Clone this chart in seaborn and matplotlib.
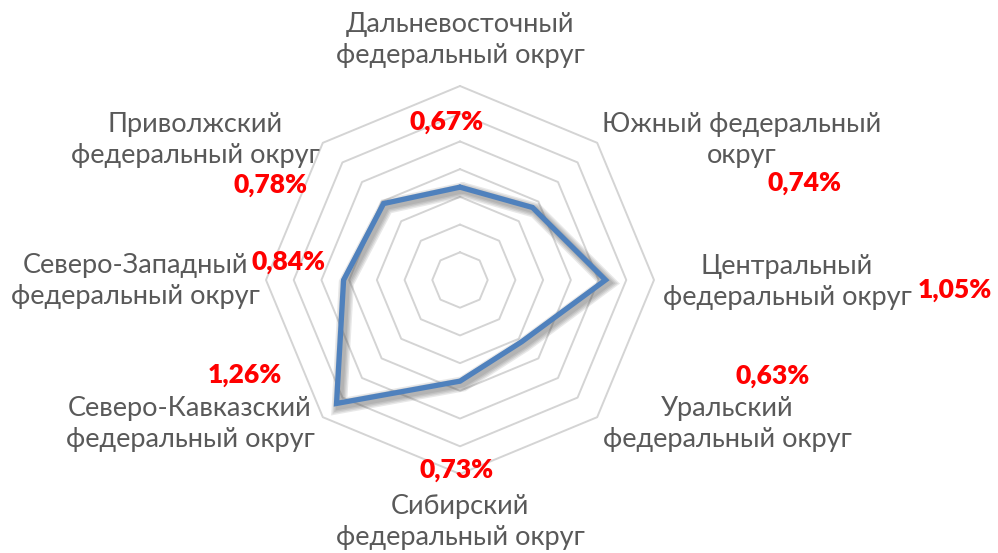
import numpy as np
import pandas as pd
import seaborn as sns
import matplotlib.pyplot as plt
import matplotlib.patheffects as pe

# data, clockwise from top
districts = ['Дальневосточный\nфедеральный округ', 'Южный федеральный\nокруг',
             'Центральный\nфедеральный округ', 'Уральский\nфедеральный округ',
             'Сибирский\nфедеральный округ', 'Северо-Кавказский\nфедеральный округ',
             'Северо-Западный\nфедеральный округ', 'Приволжский\nфедеральный округ']
values = [0.67, 0.74, 1.05, 0.63, 0.73, 1.26, 0.84, 0.78]
value_labels = ['0,67%', '0,74%', '1,05%', '0,63%', '0,73%', '1,26%', '0,84%', '0,78%']
grid_levels = [0.2, 0.4, 0.6, 0.8, 1.0, 1.2, 1.4]

# label placement (pixel centres in the 998x553 picture)
cat_pos = [(460, 40), (742, 140), (787, 282), (727, 424), (460, 522),
           (190, 424), (135, 281), (195, 140)]
val_pos = [(447, 122), (805, 183), (955, 290), (773, 376), (457, 470),
           (245, 375), (288, 262), (270, 185)]

W, H = 998, 553
cx, cy = 460, 273          # centre in px from bottom left
scale = 194 / 1.4          # px per unit of value

sns.set_theme(style='white')
plt.rcParams['font.family'] = ['Lato', 'DejaVu Sans']

fig = plt.figure(figsize=(W / 100, H / 100), dpi=100)
ax = fig.add_axes([0, 0, 1, 1])
ax.set_xlim(-cx / scale, (W - cx) / scale)
ax.set_ylim(-cy / scale, (H - cy) / scale)
ax.axis('off')

n = len(values)
ang = np.deg2rad(90 - 45 * np.arange(n))
ang_c = np.append(ang, ang[0])

for lv in grid_levels:
    ax.plot(lv * np.cos(ang_c), lv * np.sin(ang_c), color='#D4D4D4', lw=1.4, zorder=1)

df = pd.DataFrame({
    'x': np.append(values, values[0]) * np.cos(ang_c),
    'y': np.append(values, values[0]) * np.sin(ang_c),
    'step': range(n + 1),
})
shadow = [pe.SimpleLineShadow(offset=(2, -2), shadow_color='#505050', alpha=0.13, linewidth=lw)
          for lw in (11, 9, 7, 5)]
sns.lineplot(data=df, x='x', y='y', sort=False, estimator=None, color='#4F81BD',
             lw=3.8, ax=ax, zorder=3, solid_joinstyle='miter',
             path_effects=shadow + [pe.Normal()])

for txt, (px, py) in zip(districts, cat_pos):
    fig.text(px / W, 1 - py / H, txt, ha='center', va='center', fontsize=19.5,
             color='#595959', linespacing=1.3)
for txt, (px, py) in zip(value_labels, val_pos):
    fig.text(px / W, 1 - py / H, txt, ha='center', va='center', fontsize=19,
             color='#FF0000', fontweight='heavy')

fig.savefig('out.png', dpi=100)
